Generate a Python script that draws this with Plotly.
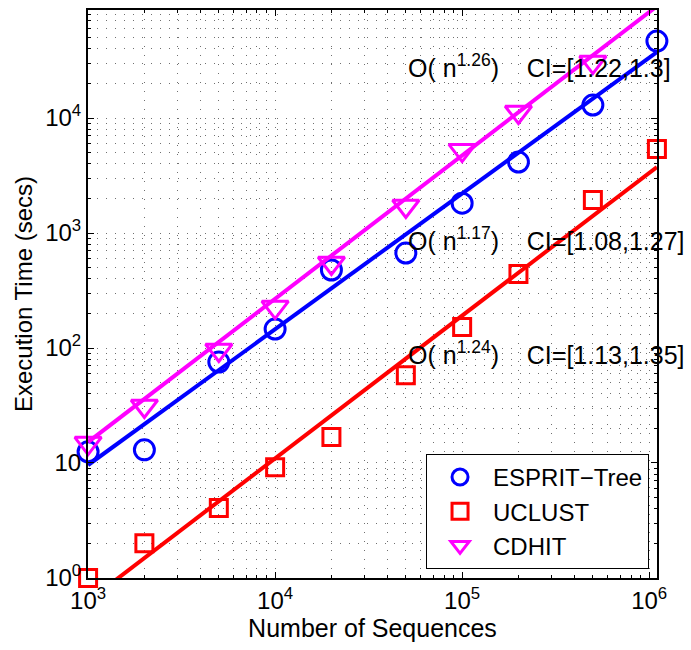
import math
import plotly.graph_objects as go

# ---- data ----
seq_counts = [1e3, 2e3, 5e3, 1e4, 2e4, 5e4, 1e5, 2e5, 5e5, 1.1e6]
esprit_times = [12.5, 13.0, 75.5, 146, 477, 670, 1820, 4140, 12970, 46700]
uclust_times = [1.0, 2.0, 4.06, 9.2, 16.8, 58, 152, 440, 1940, 5370]
cdhit_counts = [1e3, 2e3, 5e3, 1e4, 2e4, 5e4, 1e5, 2e5, 5e5]
cdhit_times = [14.9, 31.3, 96, 227, 549, 1718, 5260, 11300, 30700]

# fitted power-law lines (end points)
esprit_fit_x = [1e3, 1.1e6]
esprit_fit_y = [9.6, 37500]
uclust_fit_x = [1e3, 1.1e6]
uclust_fit_y = [0.63, 3750]
cdhit_fit_x = [1e3, 1.1e6]
cdhit_fit_y = [15.2, 94000]

fit_labels = [
    "O( n<sup>1.26</sup>)\u00a0\u00a0\u00a0\u00a0CI=[1.22,1.3]",
    "O( n<sup>1.17</sup>)\u00a0\u00a0\u00a0\u00a0CI=[1.08,1.27]",
    "O( n<sup>1.24</sup>)\u00a0\u00a0\u00a0\u00a0CI=[1.13,1.35]",
]
fit_label_pos = [(0.559, 0.901), (0.559, 0.597), (0.559, 0.396)]

x_tickvals = [1e3, 1e4, 1e5, 1e6]
x_ticktext = ["10<sup>3</sup>", "10<sup>4</sup>", "10<sup>5</sup>", "10<sup>6</sup>"]
y_tickvals = [1, 10, 100, 1000, 10000]
y_ticktext = ["10<sup>0</sup>", "10", "10<sup>2</sup>", "10<sup>3</sup>", "10<sup>4</sup>"]

FONT = "Liberation Sans, Arial, Helvetica, sans-serif"
BLUE, RED, MAG = "#0000FF", "#FF0000", "#FF00FF"

fig = go.Figure()

series = [
    ("ESPRIT\u2212Tree", seq_counts, esprit_times, esprit_fit_x, esprit_fit_y, BLUE, "circle-open", 20),
    ("UCLUST", seq_counts, uclust_times, uclust_fit_x, uclust_fit_y, RED, "square-open", 17),
    ("CDHIT", cdhit_counts, cdhit_times, cdhit_fit_x, cdhit_fit_y, MAG, "triangle-down-open", 23),
]
for name, xs, ys, fx, fy, col, sym, sz in series:
    fig.add_trace(go.Scatter(x=fx, y=fy, mode="lines", line=dict(color=col, width=4),
                             showlegend=False, hoverinfo="skip"))
    fig.add_trace(go.Scatter(x=xs, y=ys, mode="markers", name=name, cliponaxis=False,
                             marker=dict(symbol=sym, size=sz, color=col, line=dict(width=3, color=col))))

for txt, (px, py) in zip(fit_labels, fit_label_pos):
    fig.add_annotation(x=px, y=py, xref="paper", yref="paper", text=txt, showarrow=False,
                       xanchor="left", yanchor="middle", font=dict(family=FONT, size=25, color="black"))

minor_x = [m * 10 ** e for e in range(3, 6) for m in range(2, 10)]
minor_y = [m * 10 ** e for e in range(0, 5) for m in range(2, 10)]
grid_style = dict(showgrid=True, gridcolor="#707070", gridwidth=1, griddash="1px,8px")

fig.update_xaxes(type="log", range=[2.9995, math.log10(1.1e6) + 0.0005], tickmode="array",
                 tickvals=x_tickvals, ticktext=x_ticktext, ticks="inside", ticklen=6,
                 tickcolor="black", showline=True, linecolor="black", linewidth=2, mirror="ticks",
                 automargin=False,
                 tickfont=dict(family=FONT, size=24, color="black"),
                 title=dict(text="Number of Sequences", font=dict(family=FONT, size=25, color="black"), standoff=4),
                 minor=dict(tickmode="array", tickvals=minor_x, ticks="inside", ticklen=3,
                            tickcolor="black", **grid_style),
                 **grid_style)
fig.update_yaxes(type="log", range=[-0.0005, 4.94], tickmode="array",
                 tickvals=y_tickvals, ticktext=y_ticktext, ticks="inside", ticklen=6,
                 tickcolor="black", showline=True, linecolor="black", linewidth=2, mirror="ticks",
                 automargin=False,
                 tickfont=dict(family=FONT, size=24, color="black"),
                 title=dict(text="Execution Time (secs)", font=dict(family=FONT, size=24, color="black"), standoff=6),
                 minor=dict(tickmode="array", tickvals=minor_y, ticks="inside", ticklen=3,
                            tickcolor="black", **grid_style),
                 **grid_style)

fig.update_layout(
    width=691, height=650,
    margin=dict(l=88, r=34, t=10, b=72, autoexpand=False),
    paper_bgcolor="white", plot_bgcolor="white",
    font=dict(family=FONT, size=24, color="black"),
    legend=dict(x=0.986, y=0.016, xanchor="right", yanchor="bottom",
                bgcolor="white", bordercolor="black", borderwidth=1,
                font=dict(family=FONT, size=24, color="black"), itemwidth=56,
                tracegroupgap=0),
)

fig.write_html("out.html", config={"displayModeBar": False},
               post_script="document.body.style.margin='0';document.body.style.overflow='hidden';")
